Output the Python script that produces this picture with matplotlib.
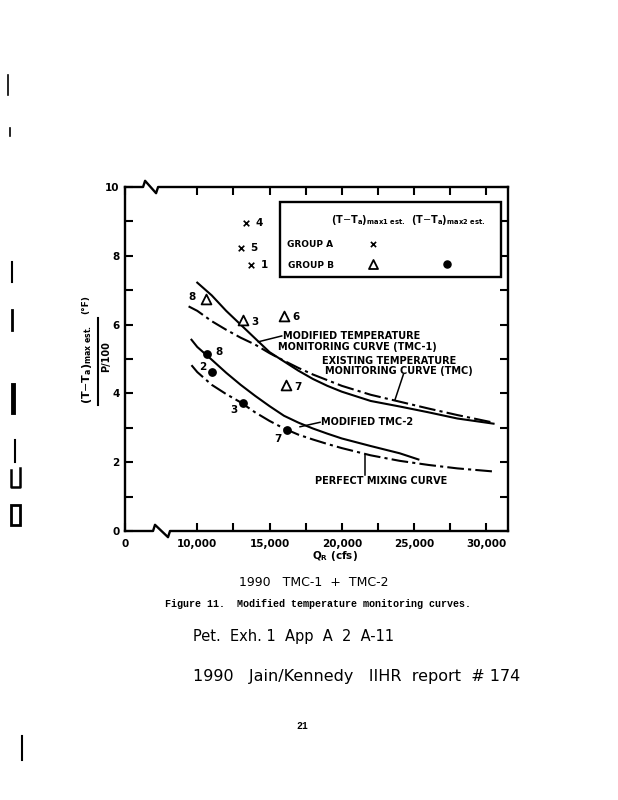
"""
Figure 11 - modified temperature monitoring curves (scanned report page)
"""
import matplotlib
matplotlib.use("Agg")
import matplotlib.pyplot as plt
from matplotlib.lines import Line2D

W, H = 618, 800

###############################################################################
# data

# group A, (T-Ta)max1 est.
grpA_x = [13350, 13000, 13750]
grpA_y = [8.95, 8.23, 7.72]
grpA_lab = ["4", "5", "1"]

# group B, (T-Ta)max1 est. (open triangles)
grpB1_x = [10580, 13170, 15970, 16130]
grpB1_y = [6.75, 6.12, 6.25, 4.23]
grpB1_lab = ["8", "3", "6", "7"]

# group B, (T-Ta)max2 est. (filled dots)
grpB2_x = [10690, 11000, 13170, 16240]
grpB2_y = [5.15, 4.62, 3.72, 2.93]
grpB2_lab = ["8", "2", "3", "7"]

# modified temperature monitoring curve (TMC-1), solid
tmc1_x = [10000, 11000, 12000, 13000, 14000, 15000, 16000, 17000, 18000,
          19000, 20000, 22000, 24000, 26000, 28000, 30500]
tmc1_y = [7.22, 6.85, 6.40, 6.00, 5.60, 5.20, 4.93, 4.66, 4.42,
          4.22, 4.05, 3.78, 3.62, 3.45, 3.27, 3.12]

# existing temperature monitoring curve (TMC), dash-dot
tmc_x = [9400, 10000, 11000, 12000, 13000, 14000, 15000, 16000, 17000,
         18000, 20000, 22000, 24000, 26000, 28000, 30500]
tmc_y = [6.53, 6.40, 6.10, 5.85, 5.62, 5.42, 5.17, 4.95, 4.74,
         4.55, 4.22, 3.96, 3.76, 3.56, 3.37, 3.15]

# modified TMC-2, solid
tmc2_x = [9600, 10000, 11000, 12000, 13000, 14000, 15000, 16000, 17000,
          18000, 19000, 20000, 22000, 24000, 25300]
tmc2_y = [5.56, 5.35, 4.98, 4.60, 4.25, 3.93, 3.63, 3.35, 3.15,
          2.98, 2.83, 2.69, 2.47, 2.26, 2.08]

# perfect mixing curve, dash-dot
pmc_x = [9600, 10000, 11000, 12000, 13000, 14000, 15000, 16000, 17000,
         18000, 19000, 20000, 22000, 24000, 26000, 28000, 30500]
pmc_y = [4.82, 4.62, 4.25, 3.98, 3.74, 3.45, 3.20, 2.98, 2.80,
         2.66, 2.53, 2.41, 2.20, 2.04, 1.92, 1.82, 1.73]

# the axis is broken: the "0" tick sits where 5000 would be
xtick_pos = [5000, 10000, 15000, 20000, 25000, 30000]
xtick_lab = ["0", "10,000", "15,000", "20,000", "25,000", "30,000"]
ytick_pos = [0, 2, 4, 6, 8, 10]

###############################################################################
FONT = "DejaVu Sans"
BOLD = dict(family=FONT, fontweight="bold", color="black")
DASHDOT = (0, (8, 2.0, 1.5, 2.0))
HAND = dict(family="DejaVu Sans", fontweight="normal", color="black")


def fpx(x, y):
    # page pixels -> figure fraction
    return x / W, 1 - y / H


fig = plt.figure(figsize=(W / 100, H / 100), dpi=100)
fig.patch.set_facecolor("white")

x0, x1, y0, y1 = 125, 508, 187, 531
ax = fig.add_axes([x0 / W, 1 - y1 / H, (x1 - x0) / W, (y1 - y0) / H])
ax.set_xlim(5000, 31500)
ax.set_ylim(0, 10)

# curves
ax.plot(tmc1_x, tmc1_y, color="black", lw=1.5)
ax.plot(tmc_x, tmc_y, color="black", lw=1.5, linestyle=DASHDOT)
ax.plot(tmc2_x, tmc2_y, color="black", lw=1.5)
ax.plot(pmc_x, pmc_y, color="black", lw=1.5, linestyle=DASHDOT)

# points
ax.scatter(grpA_x, grpA_y, marker="x", s=16, color="black", lw=1.2, zorder=4)
ax.scatter(grpB1_x, grpB1_y, marker="^", s=50, facecolor="white",
           edgecolor="black", lw=1.3, zorder=4)
ax.scatter(grpB2_x, grpB2_y, marker="o", s=28, color="black", zorder=4)

# point labels (offsets in points)
for x, y, t in zip(grpA_x, grpA_y, grpA_lab):
    ax.annotate(t, (x, y), xytext=(7, 0), textcoords="offset points",
                ha="left", va="center", fontsize=7.5, **BOLD)
offB1 = [(-7, 1, "right"), (6, -1, "left"), (6, -1, "left"), (6, -1, "left")]
for x, y, t, (dx, dy, ha) in zip(grpB1_x, grpB1_y, grpB1_lab, offB1):
    ax.annotate(t, (x, y), xytext=(dx, dy), textcoords="offset points",
                ha=ha, va="center", fontsize=7.5, **BOLD)
offB2 = [(6, 1, "left"), (-4, 4, "right"), (-4, -5, "right"), (-4, -6, "right")]
for x, y, t, (dx, dy, ha) in zip(grpB2_x, grpB2_y, grpB2_lab, offB2):
    ax.annotate(t, (x, y), xytext=(dx, dy), textcoords="offset points",
                ha=ha, va="center", fontsize=7.5, **BOLD)

# curve call-outs
lw_lead = 1.1
ax.plot([15843, 14225], [5.67, 5.50], color="black", lw=lw_lead)
ax.text(15900, 5.67, "MODIFIED TEMPERATURE", ha="left", va="center",
        fontsize=7, **BOLD)
ax.text(15620, 5.36, "MONITORING CURVE (TMC-1)", ha="left", va="center",
        fontsize=7, **BOLD)

ax.plot([24260, 23685], [4.55, 3.82], color="black", lw=lw_lead)
ax.text(23283, 4.95, "EXISTING TEMPERATURE", ha="center", va="center",
        fontsize=7, **BOLD)
ax.text(23934, 4.66, "MONITORING CURVE (TMC)", ha="center", va="center",
        fontsize=7, **BOLD)

ax.plot([18495, 17110], [3.16, 3.03], color="black", lw=lw_lead)
ax.text(18560, 3.16, "MODIFIED TMC-2", ha="left", va="center",
        fontsize=7, **BOLD)

ax.plot([21609, 21609], [1.63, 2.21], color="black", lw=lw_lead)
ax.text(22700, 1.46, "PERFECT MIXING CURVE", ha="center", va="center",
        fontsize=7, **BOLD)

# legend box drawn by hand, like the original
ax.add_patch(plt.Rectangle((15710, 7.38), 31000 - 15710, 9.56 - 7.38,
                           fill=False, lw=1.7, color="black", zorder=3))
ax.text(21840, 9.05, r"$\mathbf{(T\mathrm{-}T_a)_{max1\ est.}}$",
        ha="center", va="center", fontsize=7, color="black")
ax.text(27390, 9.05, r"$\mathbf{(T\mathrm{-}T_a)_{max2\ est.}}$",
        ha="center", va="center", fontsize=7, color="black")
ax.text(16240, 8.33, "GROUP A", ha="left", va="center", fontsize=6.5, **BOLD)
ax.text(16290, 7.72, "GROUP B", ha="left", va="center", fontsize=6.5, **BOLD)
ax.scatter([22140], [8.33], marker="x", s=14, color="black", lw=1.2, zorder=4)
ax.scatter([22140], [7.75], marker="^", s=42, facecolor="white",
           edgecolor="black", lw=1.3, zorder=4)
ax.scatter([27270], [7.77], marker="o", s=26, color="black", zorder=4)

# ticks, inward on all sides
ax.set_xticks(xtick_pos)
ax.set_xticklabels(xtick_lab)
ax.set_xticks([12500, 17500, 22500, 27500], minor=True)
ax.set_yticks(ytick_pos)
ax.set_yticks([1, 3, 5, 7, 9], minor=True)
ax.tick_params(which="both", direction="in", top=True, right=True,
               width=1.5, color="black", length=6)
ax.tick_params(axis="x", pad=6)
ax.tick_params(axis="y", pad=4)
for lab in ax.get_xticklabels() + ax.get_yticklabels():
    lab.set_fontsize(7.5)
    lab.set_fontweight("bold")
    lab.set_family(FONT)

# spines: left/right normal, top/bottom redrawn with break marks
for s in ("left", "right"):
    ax.spines[s].set_linewidth(1.7)
ax.spines["top"].set_visible(False)
ax.spines["bottom"].set_visible(False)
k = 0.18
ax.plot([5000, 6940, 7076, 7976, 8114, 31500], [0, 0, k, -k, 0, 0],
        color="black", lw=1.7, clip_on=False, zorder=5)
ax.plot([5000, 6250, 6390, 7150, 7290, 31500], [10, 10, 10 + k, 10 - k, 10, 10],
        color="black", lw=1.7, clip_on=False, zorder=5)

# axis titles
fig.text(*fpx(335, 556), r"$\mathbf{Q_R}$ (cfs)", ha="center", va="center",
         fontsize=7.5, color="black", fontweight="bold")
fig.text(*fpx(87, 364), r"$\mathbf{(T\mathrm{-}T_a)_{max\ est.}}$",
         rotation=90, ha="center", va="center", fontsize=8, color="black")
fig.text(*fpx(86, 305), "(°F)", rotation=90, ha="center", va="center",
         fontsize=6.5, color="black", fontweight="bold")
fig.add_artist(Line2D([98 / W, 98 / W], [1 - 318 / H, 1 - 405 / H],
                      color="black", lw=1.5))
fig.text(*fpx(106, 357), "P/100", rotation=90, ha="center", va="center",
         fontsize=7, color="black", fontweight="bold")

# page text below the figure
fig.text(*fpx(314, 583), "1990   TMC-1  +  TMC-2", ha="center", va="center",
         fontsize=9, **HAND)
fig.text(*fpx(318, 604), "Figure 11.  Modified temperature monitoring curves.",
         ha="center", va="center", fontsize=7.2, family="Liberation Mono",
         fontweight="bold", color="black")
fig.text(*fpx(294, 637), "Pet.  Exh. 1  App  A  2  A-11", ha="center",
         va="center", fontsize=10.5, **HAND)
fig.text(*fpx(357, 676), "1990   Jain/Kennedy   IIHR  report  # 174",
         ha="center", va="center", fontsize=11.5, **HAND)
fig.text(*fpx(302, 726), "21", ha="center", va="center", fontsize=7,
         family="Liberation Mono", fontweight="bold", color="black")

# scanner specks down the left margin
specks = [((8, 75), (8, 95), 1.2), ((10, 128), (10, 136), 1.2),
          ((12, 262), (12, 282), 1.5), ((12, 310), (12, 330), 2.0),
          ((13, 385), (13, 412), 3.5), ((15, 440), (15, 462), 1.5),
          ((22, 736), (22, 760), 1.5)]
for (xa, ya), (xb, yb), lw in specks:
    fig.add_artist(Line2D([xa / W, xb / W], [1 - ya / H, 1 - yb / H],
                          color="black", lw=lw))
fig.add_artist(Line2D([11 / W, 11 / W, 20 / W, 20 / W],
                      [1 - 470 / H, 1 - 487 / H, 1 - 487 / H, 1 - 468 / H],
                      color="black", lw=1.8))
fig.add_artist(plt.Rectangle((11 / W, 1 - 525 / H), 9 / W, 20 / H,
                             fill=False, lw=2.0, color="black",
                             transform=fig.transFigure))

fig.savefig("out.png", dpi=100, facecolor="white")
